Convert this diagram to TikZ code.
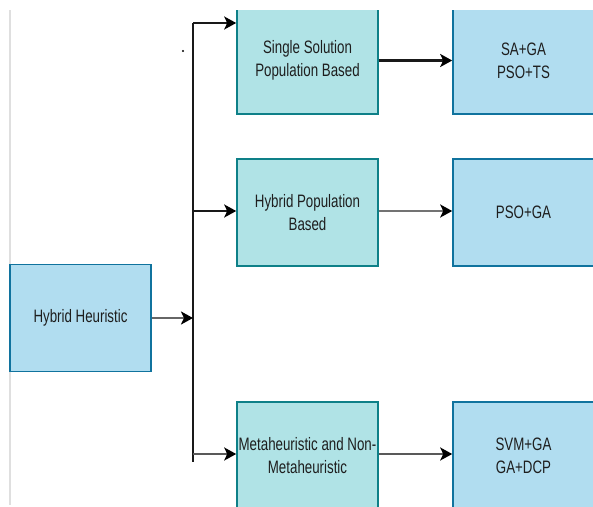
\documentclass[tikz,border=0pt]{standalone}
\usepackage{fontspec}
\setmainfont[FakeStretch=0.74]{Liberation Sans}
\usetikzlibrary{arrows.meta}
\definecolor{boxblue}{HTML}{B1DDF0}
\definecolor{edgeblue}{HTML}{10739E}
\definecolor{boxteal}{HTML}{B0E3E6}
\definecolor{edgeteal}{HTML}{0E8088}
\definecolor{txtgrey}{HTML}{1E1E1E}

\begin{document}
\begin{tikzpicture}[x=1pt, y=-1pt,
    bluebox/.style={draw=edgeblue, fill=boxblue, line width=1.6pt, minimum width=141pt, minimum height=107pt,
        align=center, text=txtgrey, font=\fontsize{18}{23}\selectfont, inner sep=0pt},
    tealbox/.style={bluebox, draw=edgeteal, fill=boxteal},
    link/.style={line width=2.2pt, -{Stealth[length=12pt, width=13pt, inset=3pt, black]}}]
    \useasboundingbox (0,0) rectangle (593,506);
    \begin{scope}
    \clip (0,10) rectangle (593,506);

    % Frame line on the left
    \draw[gray!25, line width=1.2pt] (10,10) -- (10,505);

    % Root
    \node[bluebox] (hh) at (80.5,318) {Hybrid Heuristic};

    % Middle column
    \node[tealbox] (sss) at (307.5,60.5) {Single Solution\\Population Based};
    \node[tealbox] (hpb) at (307.5,212.5) {Hybrid Population\\Based};
    \node[tealbox] (mnm) at (307.5,455.5) {Metaheuristic and Non-\\Metaheuristic};

    % Right column
    \node[bluebox] (ex1) at (523.5,60.5) {SA+GA\\PSO+TS};
    \node[bluebox] (ex2) at (523.5,212.5) {PSO+GA};
    \node[bluebox] (ex3) at (523.5,455.5) {SVM+GA\\GA+DCP};

    % Bracket
    \coordinate (b1) at (193,23);
    \coordinate (b2) at (193,211);
    \coordinate (b3) at (193,454);
    \coordinate (bend) at (193,462);
    \coordinate (bin) at (193,318);
    \draw[black!90, line width=1.8pt] (b1) -- (bend);

    \draw[link, black!60] (hh.east |- bin) -- (bin);
    \draw[link, black!90] (b1) -- (b1 -| sss.west);
    \draw[link, black!90] (b2) -- (b2 -| hpb.west);
    \draw[link, black!65] (b3) -- (b3 -| mnm.west);

    \draw[link, black!90] (sss) -- (ex1);
    \draw[link, black!55] (hpb.east |- b2) -- (ex2.west |- b2);
    \draw[link, black!65] (mnm.east |- b3) -- (ex3.west |- b3);

    % Stray dot
    \fill (183,51) circle (1.2pt);
    \end{scope}
\end{tikzpicture}
\end{document}
